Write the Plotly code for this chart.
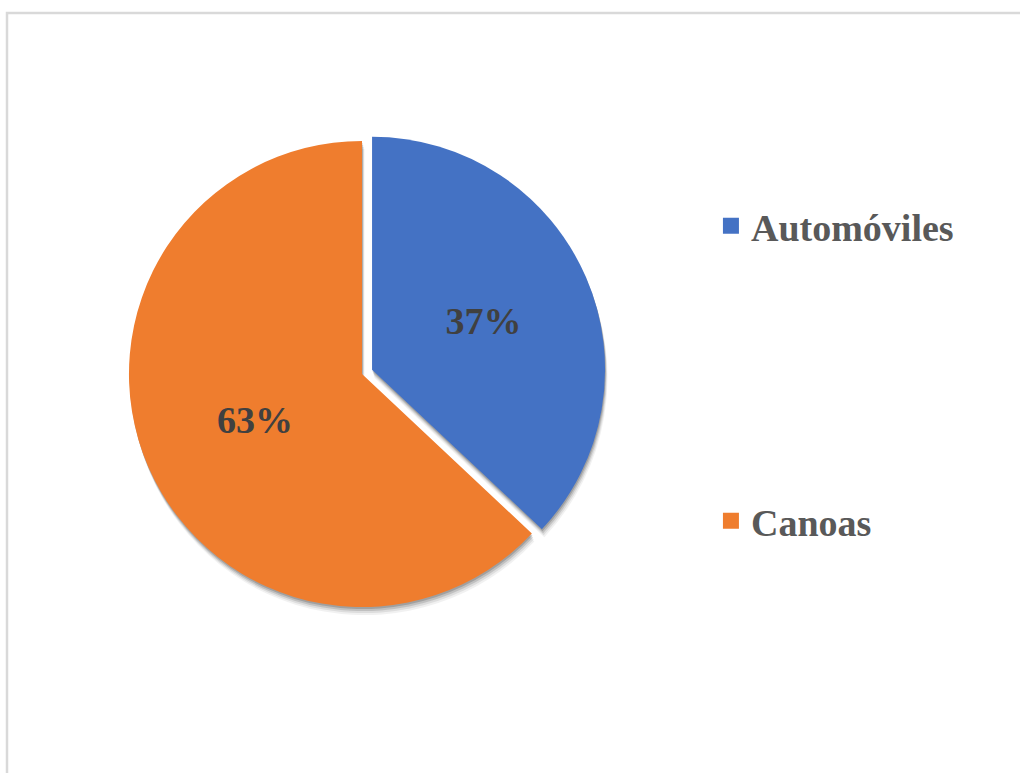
import plotly.graph_objects as go

# Data
categories = ["Automóviles", "Canoas"]
shares = [37, 63]
colors = ["#4472C4", "#EF7D2E"]

W, H = 1020, 773

# Pie placement (paper coordinates)
pie_domain_x = [0.1157, 0.5941]
pie_domain_y = [0.2005, 0.8318]
pulls = [0.047, 0.0]

serif = "Liberation Serif, Times New Roman, serif"

fig = go.Figure()

# Soft drop shadow: a few faint grey copies of the pie, shifted downward
shadow_steps = [(2, 0.16), (4, 0.12), (6, 0.08), (8, 0.05)]
for dy_px, alpha in shadow_steps:
    dy = dy_px / H
    dx = (dy_px * 0.3) / W
    fig.add_trace(go.Pie(
        labels=categories,
        values=shares,
        pull=pulls,
        sort=False,
        direction="clockwise",
        rotation=0,
        marker=dict(colors=["#000000", "#000000"], line=dict(width=0)),
        opacity=alpha,
        textinfo="none",
        hoverinfo="skip",
        showlegend=False,
        domain=dict(x=[pie_domain_x[0] + dx, pie_domain_x[1] + dx],
                    y=[pie_domain_y[0] - dy, pie_domain_y[1] - dy]),
    ))

# Main pie
fig.add_trace(go.Pie(
    labels=categories,
    values=shares,
    pull=pulls,
    sort=False,
    direction="clockwise",
    rotation=0,
    marker=dict(colors=colors, line=dict(width=0)),
    texttemplate="%{value}%",
    textposition="inside",
    insidetextorientation="horizontal",
    textfont=dict(family=serif, size=38, color="#404040", weight="bold"),
    showlegend=False,
    domain=dict(x=pie_domain_x, y=pie_domain_y),
))

# Legend entries, one legend per category so they can sit far apart
legend_names = ["legend", "legend2"]
for name, color, leg in zip(categories, colors, legend_names):
    fig.add_trace(go.Scatter(
        x=[None], y=[None],
        mode="markers",
        marker=dict(symbol="square", size=20, color=color),
        name=name,
        legend=leg,
        hoverinfo="skip",
    ))

legend_style = dict(
    font=dict(family=serif, size=38, color="#595959", weight="bold"),
    bgcolor="rgba(0,0,0,0)",
    borderwidth=0,
    xanchor="left",
    yanchor="middle",
    x=0.697,
)

fig.update_layout(
    width=W,
    height=H,
    margin=dict(l=0, r=0, t=0, b=0),
    paper_bgcolor="white",
    plot_bgcolor="white",
    xaxis=dict(visible=False),
    yaxis=dict(visible=False),
    legend=dict(**legend_style, y=1 - 226 / H),
    legend2=dict(**legend_style, y=1 - 521 / H),
    shapes=[
        # Chart frame
        dict(type="rect", xref="paper", yref="paper",
             x0=7 / W, x1=1.02, y0=-0.02, y1=1 - 13 / H,
             line=dict(color="#D9D9D9", width=2.5),
             fillcolor="rgba(0,0,0,0)", layer="below"),
    ],
)

fig.write_html("out.html")
